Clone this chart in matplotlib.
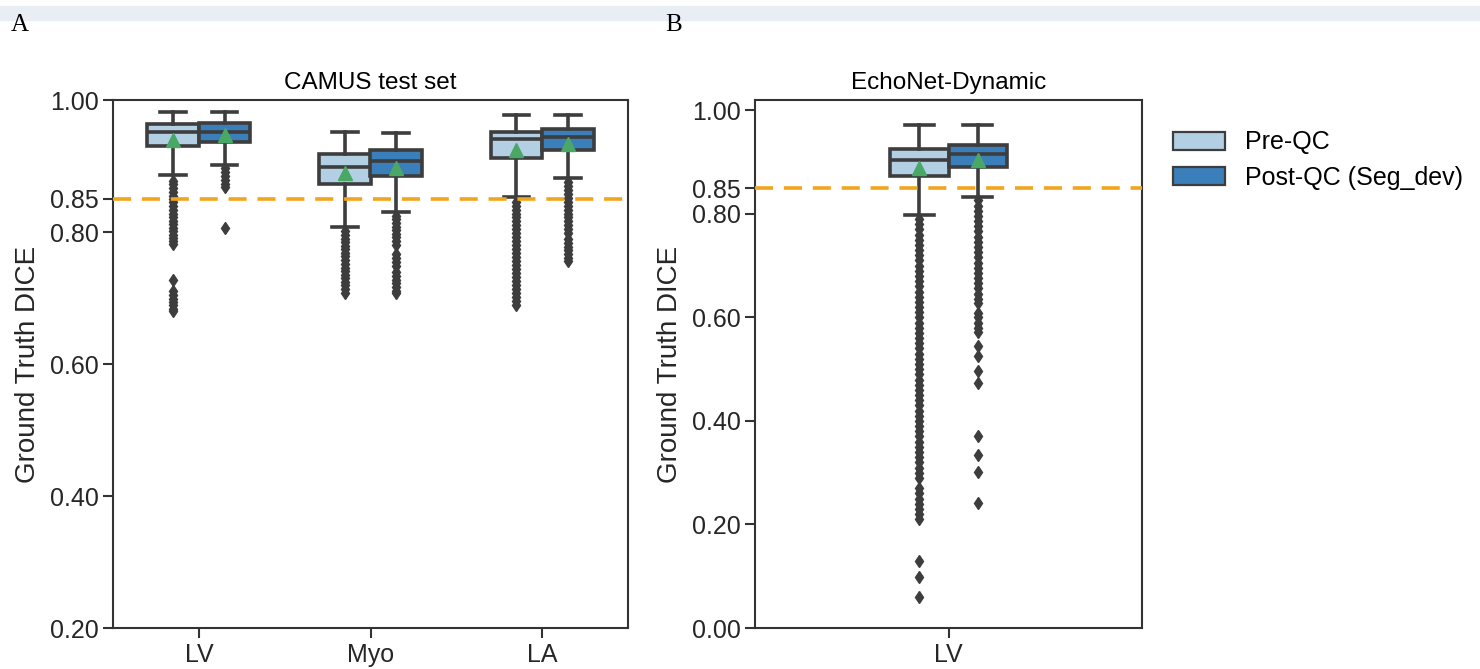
import matplotlib
matplotlib.use("Agg")
import matplotlib.pyplot as plt
from matplotlib.patches import Patch, Rectangle

plt.rcParams.update({
    "font.family": ["Liberation Sans", "DejaVu Sans"],
    "axes.edgecolor": "#333333",
    "axes.linewidth": 1.5,
    "xtick.color": "#333333",
    "ytick.color": "#333333",
    "xtick.labelcolor": "#262626",
    "ytick.labelcolor": "#262626",
    "xtick.major.size": 7,
    "ytick.major.size": 7,
    "xtick.major.width": 1.5,
    "ytick.major.width": 1.5,
})

# ── Data ─────────────────────────────────────────────────────────────────────
camus_groups = ["LV", "Myo", "LA"]

camus_pre_q1 = [0.930, 0.872, 0.912]
camus_pre_med = [0.951, 0.899, 0.941]
camus_pre_q3 = [0.963, 0.918, 0.952]
camus_pre_lo = [0.886, 0.807, 0.853]
camus_pre_hi = [0.982, 0.952, 0.978]
camus_pre_mean = [0.939, 0.889, 0.924]
camus_pre_fliers = [
    [0.878, 0.872, 0.866, 0.861, 0.855, 0.850, 0.845, 0.839, 0.834, 0.828,
     0.822, 0.817, 0.812, 0.806, 0.801, 0.796, 0.791, 0.786, 0.782, 0.727,
     0.711, 0.705, 0.699, 0.694, 0.689, 0.684, 0.680],
    [0.801, 0.796, 0.790, 0.785, 0.779, 0.774, 0.768, 0.763, 0.757, 0.752,
     0.746, 0.741, 0.735, 0.730, 0.724, 0.719, 0.713, 0.708],
    [0.846, 0.840, 0.834, 0.828, 0.822, 0.816, 0.810, 0.804, 0.798, 0.792,
     0.786, 0.780, 0.774, 0.768, 0.762, 0.756, 0.750, 0.744, 0.738, 0.732,
     0.726, 0.720, 0.714, 0.708, 0.702, 0.696, 0.690],
]

camus_post_q1 = [0.937, 0.885, 0.925]
camus_post_med = [0.952, 0.908, 0.944]
camus_post_q3 = [0.965, 0.924, 0.956]
camus_post_lo = [0.902, 0.831, 0.882]
camus_post_hi = [0.982, 0.950, 0.978]
camus_post_mean = [0.947, 0.897, 0.934]
camus_post_fliers = [
    [0.897, 0.891, 0.885, 0.879, 0.873, 0.868, 0.806],
    [0.825, 0.819, 0.814, 0.808, 0.803, 0.797, 0.792, 0.786, 0.781, 0.767,
     0.761, 0.755, 0.749, 0.739, 0.733, 0.727, 0.722, 0.716, 0.711, 0.707],
    [0.876, 0.870, 0.864, 0.858, 0.852, 0.846, 0.840, 0.834, 0.828, 0.822,
     0.816, 0.810, 0.804, 0.798, 0.790, 0.784, 0.778, 0.772, 0.766, 0.760,
     0.756],
]

echo_groups = ["LV"]

echo_pre_q1 = [0.874]
echo_pre_med = [0.905]
echo_pre_q3 = [0.926]
echo_pre_lo = [0.797]
echo_pre_hi = [0.972]
echo_pre_mean = [0.889]
echo_pre_fliers = [[
    0.790, 0.780, 0.770, 0.760, 0.750, 0.740, 0.730, 0.720, 0.710, 0.700,
    0.690, 0.680, 0.670, 0.660, 0.650, 0.640, 0.630, 0.620, 0.610, 0.600,
    0.590, 0.580, 0.570, 0.560, 0.550, 0.540, 0.530, 0.520, 0.510, 0.500,
    0.490, 0.480, 0.470, 0.460, 0.450, 0.440, 0.430, 0.420, 0.410, 0.400,
    0.390, 0.380, 0.370, 0.360, 0.350, 0.340, 0.330, 0.320, 0.310, 0.300,
    0.290, 0.270, 0.260, 0.250, 0.240, 0.230, 0.220, 0.210, 0.130, 0.099,
    0.059,
]]

echo_post_q1 = [0.891]
echo_post_med = [0.915]
echo_post_q3 = [0.933]
echo_post_lo = [0.833]
echo_post_hi = [0.972]
echo_post_mean = [0.905]
echo_post_fliers = [[
    0.826, 0.816, 0.806, 0.796, 0.786, 0.776, 0.766, 0.756, 0.746, 0.736,
    0.726, 0.716, 0.706, 0.696, 0.686, 0.676, 0.666, 0.656, 0.646, 0.636,
    0.628, 0.609, 0.600, 0.590, 0.580, 0.571, 0.544, 0.525, 0.496, 0.473,
    0.371, 0.335, 0.302, 0.242,
]]

series_labels = ["Pre-QC", "Post-QC (Seg_dev)"]
camus_yticks = [0.20, 0.40, 0.60, 0.80, 0.85, 1.00]
echo_yticks = [0.00, 0.20, 0.40, 0.60, 0.80, 0.85, 1.00]
threshold = 0.85

# ── Style ────────────────────────────────────────────────────────────────────
PRE_COLOR = "#b3cfe4"
POST_COLOR = "#3a7fb9"
EDGE = "#3d3d3d"
MEAN_COLOR = "#4aa866"
LINE_COLOR = "#f2a51c"
SERIF = ["Liberation Serif", "DejaVu Serif"]


def make_stats(q1, med, q3, lo, hi, mean, fliers):
    return [dict(q1=a, med=b, q3=c, whislo=d, whishi=e, mean=f, fliers=g)
            for a, b, c, d, e, f, g in zip(q1, med, q3, lo, hi, mean, fliers)]


def draw_boxes(ax, stats, positions, width, color):
    ax.bxp(
        stats, positions=positions, widths=width, capwidths=width * 0.5,
        patch_artist=True, showmeans=True, manage_ticks=False,
        boxprops=dict(facecolor=color, edgecolor=EDGE, linewidth=2.6),
        medianprops=dict(color=EDGE, linewidth=2.6),
        whiskerprops=dict(color=EDGE, linewidth=2.6),
        capprops=dict(color=EDGE, linewidth=2.6),
        meanprops=dict(marker="^", markerfacecolor=MEAN_COLOR,
                       markeredgecolor=MEAN_COLOR, markersize=10.5),
        flierprops=dict(marker="d", markerfacecolor=EDGE, markeredgecolor=EDGE,
                        markersize=6),
    )


fig = plt.figure(figsize=(14.8, 6.69), dpi=100)

# top strip and panel letters
fig.patches.append(Rectangle((0, 1 - 20 / 669), 1, 14 / 669,
                             transform=fig.transFigure, color="#e9eef5",
                             zorder=0))
fig.text(11 / 1480, 1 - 25 / 669, "A", family=SERIF, fontsize=18,
         va="center", ha="left")
fig.text(665 / 1480, 1 - 25 / 669, "B", family=SERIF, fontsize=18,
         va="center", ha="left")

ax1 = fig.add_axes([113 / 1480, 41 / 669, 515 / 1480, 528 / 669])
ax2 = fig.add_axes([755 / 1480, 41 / 669, 387 / 1480, 528 / 669])

# Panel A
x1 = list(range(len(camus_groups)))
draw_boxes(ax1, make_stats(camus_pre_q1, camus_pre_med, camus_pre_q3, camus_pre_lo,
                           camus_pre_hi, camus_pre_mean, camus_pre_fliers),
           [x - 0.15 for x in x1], 0.3, PRE_COLOR)
draw_boxes(ax1, make_stats(camus_post_q1, camus_post_med, camus_post_q3, camus_post_lo,
                           camus_post_hi, camus_post_mean, camus_post_fliers),
           [x + 0.15 for x in x1], 0.3, POST_COLOR)
ax1.set_xlim(-0.5, len(camus_groups) - 0.5)
ax1.set_ylim(0.2, 1.0)
ax1.set_title("CAMUS test set", fontsize=17.5, pad=8)

# Panel B
x2 = list(range(len(echo_groups)))
draw_boxes(ax2, make_stats(echo_pre_q1, echo_pre_med, echo_pre_q3, echo_pre_lo,
                           echo_pre_hi, echo_pre_mean, echo_pre_fliers),
           [x - 0.075 for x in x2], 0.15, PRE_COLOR)
draw_boxes(ax2, make_stats(echo_post_q1, echo_post_med, echo_post_q3, echo_post_lo,
                           echo_post_hi, echo_post_mean, echo_post_fliers),
           [x + 0.075 for x in x2], 0.15, POST_COLOR)
ax2.set_xlim(-0.5, len(echo_groups) - 0.5)
ax2.set_ylim(0.0, 1.02)
ax2.set_title("EchoNet-Dynamic", fontsize=17.5, pad=8)

for ax, groups, yt in [(ax1, camus_groups, camus_yticks), (ax2, echo_groups, echo_yticks)]:
    ax.axhline(threshold, color=LINE_COLOR, linestyle=(0, (5, 3)), linewidth=2.6,
               zorder=5)
    ax.set_xticks(range(len(groups)))
    ax.set_xticklabels(groups, fontsize=18)
    ax.set_yticks(yt)
    ax.set_yticklabels([f"{v:.2f}" for v in yt], fontsize=18)
    ax.set_ylabel("Ground Truth DICE", fontsize=20, color="#262626", labelpad=6)

handles = [Patch(facecolor=PRE_COLOR, edgecolor=EDGE, linewidth=1.6),
           Patch(facecolor=POST_COLOR, edgecolor=EDGE, linewidth=1.6)]
fig.legend(handles, series_labels, loc="upper left",
           bbox_to_anchor=(1150 / 1480, 1 - 108 / 669), frameon=False,
           fontsize=18, handlelength=2.1, handleheight=0.75, labelspacing=0.45,
           handletextpad=0.8)

fig.savefig("out.png", dpi=100)
